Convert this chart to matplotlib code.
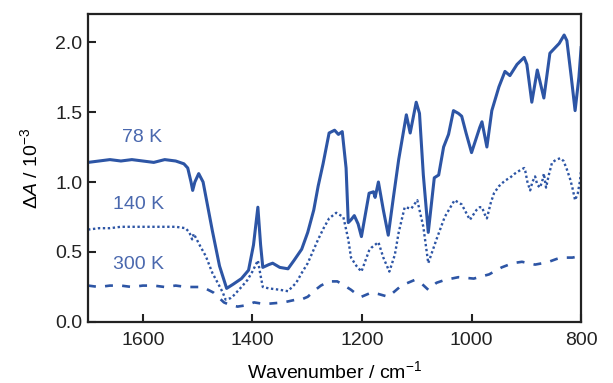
import matplotlib
matplotlib.use("Agg")
import matplotlib.pyplot as plt

plt.rcParams['font.family'] = ['Liberation Sans', 'DejaVu Sans']
plt.rcParams['mathtext.fontset'] = 'custom'
plt.rcParams['mathtext.rm'] = 'Liberation Sans'
plt.rcParams['mathtext.it'] = 'Liberation Sans:italic'

# 78 K (solid)
wn_78 = [1700, 1680, 1660, 1640, 1620, 1600, 1580, 1560, 1540, 1525, 1518, 1512, 1509, 1505,
         1498, 1490, 1473, 1460, 1447, 1435, 1420, 1407, 1398, 1390, 1385, 1381, 1370, 1363,
         1350, 1335, 1324, 1310, 1299, 1288, 1280, 1271, 1260, 1250, 1243, 1236, 1229, 1225,
         1220, 1214, 1207, 1201, 1187, 1179, 1176, 1170, 1161, 1152, 1143, 1133, 1119, 1112,
         1101, 1095, 1088, 1079, 1068, 1060, 1051, 1042, 1033, 1024, 1018, 1010, 1000, 985,
         981, 972, 963, 950, 939, 930, 917, 904, 899, 890, 880, 868, 857, 840, 831, 826, 818,
         811, 804, 800]
a_78 = [1.14, 1.15, 1.16, 1.15, 1.16, 1.15, 1.14, 1.16, 1.15, 1.13, 1.10, 1.00, 0.94, 1.00,
        1.06, 1.00, 0.65, 0.40, 0.24, 0.27, 0.31, 0.37, 0.55, 0.82, 0.55, 0.39, 0.41, 0.42,
        0.39, 0.38, 0.44, 0.52, 0.64, 0.80, 0.97, 1.13, 1.35, 1.37, 1.34, 1.36, 1.10, 0.71,
        0.73, 0.76, 0.70, 0.61, 0.92, 0.93, 0.89, 1.00, 0.80, 0.62, 0.88, 1.16, 1.48, 1.35,
        1.57, 1.49, 1.05, 0.64, 1.03, 1.05, 1.25, 1.34, 1.51, 1.49, 1.47, 1.35, 1.21, 1.39,
        1.43, 1.25, 1.51, 1.68, 1.79, 1.76, 1.84, 1.89, 1.84, 1.57, 1.80, 1.60, 1.92, 1.99,
        2.05, 2.01, 1.75, 1.51, 1.75, 1.96]

# 140 K (dotted)
wn_140 = [1700, 1680, 1660, 1640, 1620, 1600, 1580, 1560, 1540, 1522, 1515, 1510, 1507, 1503,
          1495, 1485, 1473, 1462, 1454, 1449, 1440, 1434, 1420, 1409, 1400, 1390, 1385, 1381,
          1370, 1350, 1335, 1320, 1310, 1299, 1290, 1280, 1270, 1260, 1247, 1234, 1225, 1220,
          1210, 1201, 1187, 1183, 1170, 1161, 1150, 1140, 1133, 1122, 1110, 1099, 1088, 1079,
          1064, 1049, 1031, 1018, 1003, 991, 985, 981, 976, 972, 965, 959, 950, 939, 930, 921,
          913, 904, 902, 898, 893, 889, 884, 880, 875, 870, 868, 864, 859, 853, 845, 838, 832,
          826, 820, 816, 811, 806, 802, 798]
a_140 = [0.66, 0.67, 0.67, 0.68, 0.68, 0.68, 0.68, 0.68, 0.68, 0.67, 0.64, 0.59, 0.63, 0.60,
         0.54, 0.47, 0.35, 0.27, 0.21, 0.16, 0.17, 0.19, 0.25, 0.30, 0.36, 0.44, 0.33, 0.25,
         0.24, 0.23, 0.22, 0.28, 0.35, 0.42, 0.50, 0.59, 0.67, 0.74, 0.78, 0.75, 0.59, 0.46,
         0.40, 0.36, 0.51, 0.53, 0.57, 0.46, 0.36, 0.48, 0.64, 0.82, 0.81, 0.87, 0.68, 0.42,
         0.59, 0.75, 0.87, 0.84, 0.73, 0.80, 0.82, 0.82, 0.77, 0.74, 0.85, 0.92, 0.97, 1.01,
         1.03, 1.06, 1.08, 1.10, 1.08, 1.00, 0.94, 1.00, 1.04, 0.98, 0.96, 1.02, 1.06, 0.96,
         1.05, 1.14, 1.16, 1.17, 1.15, 1.09, 1.02, 0.96, 0.87, 0.92, 1.01, 1.16]

# 300 K (dashed)
wn_300 = [1700, 1680, 1660, 1640, 1620, 1600, 1580, 1560, 1540, 1520, 1500, 1491, 1471, 1452,
          1440, 1427, 1410, 1397, 1381, 1372, 1343, 1320, 1311, 1299, 1288, 1275, 1260, 1245,
          1232, 1220, 1207, 1201, 1183, 1170, 1152, 1140, 1128, 1104, 1090, 1079, 1064, 1049,
          1024, 996, 968, 945, 925, 908, 884, 870, 859, 845, 835, 816, 802, 798]
a_300 = [0.26, 0.25, 0.26, 0.26, 0.25, 0.26, 0.26, 0.25, 0.26, 0.25, 0.25, 0.25, 0.21, 0.14,
         0.12, 0.11, 0.12, 0.14, 0.13, 0.13, 0.14, 0.16, 0.16, 0.18, 0.22, 0.26, 0.29, 0.29,
         0.26, 0.23, 0.19, 0.18, 0.21, 0.20, 0.18, 0.22, 0.26, 0.30, 0.27, 0.23, 0.28, 0.30,
         0.32, 0.31, 0.34, 0.39, 0.42, 0.43, 0.41, 0.42, 0.43, 0.45, 0.46, 0.46, 0.47, 0.48]

labels = ["78 K", "140 K", "300 K"]
label_pos = [(1601, 1.32), (1608, 0.836), (1608, 0.41)]
x_ticks = [1600, 1400, 1200, 1000, 800]
y_ticks = [0.0, 0.5, 1.0, 1.5, 2.0]

color = '#2D55A5'

fig = plt.figure(figsize=(6.13, 3.83), dpi=100)
ax = fig.add_axes([0.1436, 0.1593, 0.8044, 0.8041])

ax.plot(wn_78, a_78, color=color, lw=2.2, solid_joinstyle='round')
ax.plot(wn_140, a_140, color=color, lw=1.7, linestyle=(0, (1, 1.1)))
ax.plot(wn_300, a_300, color=color, lw=1.9, linestyle=(0, (3, 3.5)))

for t, (x, y) in zip(labels, label_pos):
    ax.text(x, y, t, color='#4A68AE', fontsize=14, ha='center', va='center')

ax.set_xlim(1700, 800)
ax.set_ylim(0, 2.2)
ax.set_xticks(x_ticks)
ax.set_xticklabels([str(v) for v in x_ticks])
ax.set_yticks(y_ticks)
ax.set_yticklabels([f"{v:.1f}" for v in y_ticks])
ax.tick_params(direction='in', length=6, width=1.5, labelsize=14, colors='#222222')
ax.tick_params(axis='x', pad=7)
ax.tick_params(axis='y', pad=4)
for s in ax.spines.values():
    s.set_linewidth(1.6)
    s.set_color('#222222')

ax.set_xlabel(r"Wavenumber / cm$^{-1}$", fontsize=14, labelpad=8)
ax.set_ylabel(r"$\Delta A$ / 10$^{-3}$", fontsize=14, labelpad=10)

fig.savefig("out.png", dpi=100)
